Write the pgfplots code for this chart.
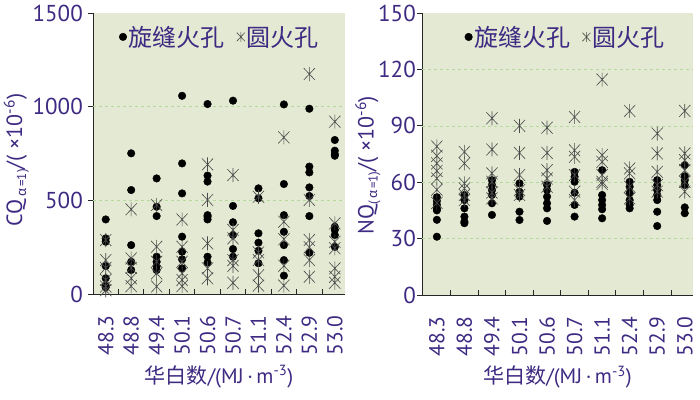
\documentclass[border=0pt]{standalone}
\usepackage{fontspec}
\setmainfont{PT Sans}
\newfontfamily\cjk{Noto Sans CJK SC}
\usepackage{pgfplots}
\pgfplotsset{compat=1.18}
\definecolor{txt}{HTML}{3E2A82}
\definecolor{bg}{HTML}{E3E9D3}
\definecolor{gridc}{HTML}{B5D99C}
\definecolor{stc}{HTML}{4A4A4A}
\pgfdeclareplotmark{xast}{%
 \pgfpathmoveto{\pgfqpoint{0pt}{\pgfplotmarksize}}\pgfpathlineto{\pgfqpoint{0pt}{-\pgfplotmarksize}}%
 \pgfpathmoveto{\pgfqpoint{-0.8\pgfplotmarksize}{0.85\pgfplotmarksize}}\pgfpathlineto{\pgfqpoint{0.8\pgfplotmarksize}{-0.85\pgfplotmarksize}}%
 \pgfpathmoveto{\pgfqpoint{-0.8\pgfplotmarksize}{-0.85\pgfplotmarksize}}\pgfpathlineto{\pgfqpoint{0.8\pgfplotmarksize}{0.85\pgfplotmarksize}}%
 \pgfusepathqstroke}
\pgfplotsset{
 myaxis/.style={
  scale only axis, anchor=south west,
  axis background/.style={fill=bg},
  axis x line*=bottom, axis y line*=left,
  axis line style={line width=1pt, black!85},
  tick align=outside,
  major tick length=5pt,
  minor tick length=5pt,
  tick style={line width=0.9pt, black!85},
  xtick={0,...,9},
  xticklabels={48.3,48.8,49.4,50.1,50.6,50.7,51.1,52.4,52.9,53.0},
  major x tick style={draw=none},
  minor xtick={0.5,1.5,...,8.5},
  minor x tick style={yshift=5pt},
  /pgf/number format/assume math mode=true,
  /pgf/number format/1000 sep={},
  yticklabel style={font=\fontsize{23}{23}\selectfont, text=txt, inner xsep=1pt},
  xticklabel style={font=\fontsize{21.5}{21.5}\selectfont, text=txt, rotate=90, anchor=east, inner ysep=1pt},
  xticklabel shift=13pt,
  extra y tick labels={},
  extra y tick style={grid=major, major tick length=0pt},
  grid style={dashed, gridc, line width=0.6pt},
  xlabel={{\cjk 华白数}/(MJ{\,·\,}m\textsuperscript{-3})},
  xlabel style={font=\fontsize{21}{21}\selectfont, text=txt, anchor=center},
  ylabel style={font=\fontsize{22}{22}\selectfont, text=txt, anchor=center},
  legend columns=2,
  legend cell align=left,
  legend style={draw=none, fill=none, font=\cjk\fontsize{24}{24}\selectfont, text=txt,
    /tikz/every even column/.append style={column sep=10pt}, inner sep=0pt,
    nodes={inner xsep=2pt, inner ysep=0pt}, anchor=center},
  legend image code/.code={\draw[##1] plot coordinates {(0pt,0pt)};},
 },
 dotst/.style={only marks, mark=*, mark size=3.8pt, black, mark options={fill=black}},
 starst/.style={only marks, mark=xast, mark size=7pt, stc, line width=0.6pt,
   legend image code/.code={\draw[##1, mark size=5pt] plot coordinates {(0pt,0pt)};}},
}
\begin{document}
\begin{tikzpicture}
\useasboundingbox (0,0) rectangle (700pt,399pt);
\begin{axis}[myaxis,
  at={(93pt,105pt)}, width=252pt, height=281pt,
  xmin=-0.5, xmax=9.4, ymin=0, ymax=1500,
  ytick={0,500,1000,1500}, extra y ticks={500,1000},
  yticklabel style={xshift=-4pt},
  xlabel style={at={(axis description cs:0.5,-0.295)}},
  ylabel={CQ\raisebox{-4pt}{\fontsize{13}{13}\selectfont\,{\cjk α}\,=1)}/(\ ×10\textsuperscript{-6})},
  ylabel style={at={(axis description cs:-0.304,0.477)}},
  legend style={at={(axis description cs:0.504,0.915)}},
]
\addplot[dotst] coordinates {
(0,398)(0,297)(0,279)(0,149)(0,84)(0,43)(0,36)
(1,751)(1,555)(1,261)(1,172)(1,128)
(2,617)(2,466)(2,416)(2,199)(2,172)(2,149)(2,128)
(3,1058)(3,697)(3,537)(3,306)(3,226)(3,185)(3,137)
(4,1014)(4,632)(4,600)(4,421)(4,412)(4,398)(4,199)(4,167)
(5,1032)(5,470)(5,383)(5,315)(5,240)(5,199)
(6,564)(6,511)(6,324)(6,274)(6,231)(6,164)
(7,1012)(7,587)(7,421)(7,332)(7,261)(7,181)(7,98)
(8,989)(8,680)(8,649)(8,569)(8,523)(8,416)(8,220)
(9,822)(9,765)(9,747)(9,738)(9,359)(9,342)(9,315)(9,252)
};
\addlegendentry{旋缝火孔}
\addplot[starst] coordinates {
(0,288)(0,181)(0,139)(0,75)(0,40)(0,20)
(1,452)(1,190)(1,139)(1,84)(1,42)
(2,475)(2,252)(2,172)(2,110)(2,40)
(3,398)(3,252)(3,172)(3,110)(3,75)(3,42)
(4,692)(4,502)(4,270)(4,137)(4,84)
(5,635)(5,342)(5,297)(5,181)(5,150)(5,60)
(6,519)(6,222)(6,181)(6,100)(6,45)
(7,836)(7,386)(7,292)(7,151)(7,45)
(8,1174)(8,502)(8,288)(8,250)(8,181)(8,92)
(9,920)(9,377)(9,279)(9,244)(9,137)(9,92)(9,60)
};
\addlegendentry{圆火孔}
\end{axis}
\begin{axis}[myaxis,
  at={(422pt,104pt)}, width=271pt, height=282pt,
  xmin=-0.54, xmax=9.3, ymin=0, ymax=150,
  ytick={0,30,60,90,120,150}, extra y ticks={30,60,90,120},
  xlabel style={at={(axis description cs:0.5,-0.291)}},
  ylabel={NQ\raisebox{-4pt}{\fontsize{13}{13}\selectfont(\,{\cjk α}\,=1)}/(\ ×10\textsuperscript{-6})},
  ylabel style={at={(axis description cs:-0.2,0.46)}},
  legend style={at={(axis description cs:0.53,0.915)}},
]
\addplot[dotst] coordinates {
(0,52)(0,50)(0,48)(0,46)(0,45)(0,40)(0,31)
(1,53.2)(1,50.5)(1,46.1)(1,41.7)(1,39)(1,38.2)
(2,61.1)(2,58.5)(2,55.8)(2,53.2)(2,48.8)(2,42.6)
(3,59.4)(3,54.9)(3,52.3)(3,44.3)(3,39.9)
(4,58.5)(4,55.8)(4,52.3)(4,48.8)(4,46.1)(4,39.4)
(5,65.5)(5,62.9)(5,60.2)(5,54.4)(5,47.9)(5,41.7)
(6,66.4)(6,53.2)(6,50.5)(6,47.9)(6,45.6)(6,40.8)
(7,60.2)(7,57.6)(7,54.1)(7,50.5)(7,48)(7,46.1)
(8,61.1)(8,58.5)(8,55.8)(8,53.2)(8,50.5)(8,44.3)(8,36.7)
(9,69.1)(9,63.2)(9,61.1)(9,58.5)(9,46.6)(9,43.5)
};
\addlegendentry{旋缝火孔}
\addplot[starst] coordinates {
(0,79)(0,74)(0,70)(0,66)(0,62)(0,56)(0,49)
(1,76.1)(1,70)(1,59.4)(1,56.7)(1,53.2)(1,50.5)
(2,94)(2,77.4)(2,64.7)(2,60.2)(2,54.5)(2,51.4)
(3,90)(3,75.6)(3,63.8)(3,55.8)(3,53.2)
(4,89)(4,75.6)(4,66.4)(4,62)(4,57.6)
(5,94.7)(5,77)(5,73.5)(5,63.8)(5,55)(5,50.5)
(6,114.6)(6,74.4)(6,70.8)(6,63.8)(6,60.2)(6,59)
(7,97.9)(7,67.3)(7,64.7)(7,57.6)(7,51.4)
(8,85.9)(8,75.3)(8,65.5)(8,58.5)(8,55)
(9,97.9)(9,75.3)(9,71.7)(9,66.4)(9,60.2)(9,55)
};
\addlegendentry{圆火孔}
\end{axis}
\end{tikzpicture}
\end{document}
